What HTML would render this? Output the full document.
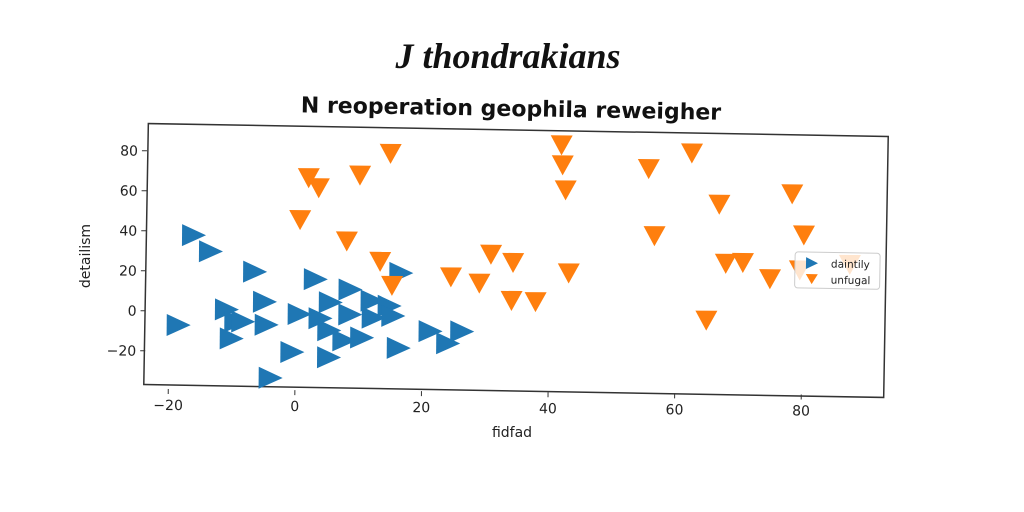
<!DOCTYPE html>
<html><head><meta charset="utf-8"><style>
html,body{margin:0;padding:0;background:#fff;}
svg{display:block;font-family:"DejaVu Sans","Liberation Sans",sans-serif;}
</style></head><body>
<svg id="chart" width="1024" height="512" viewBox="0 0 1024 512" xmlns="http://www.w3.org/2000/svg">
<rect width="1024" height="512" fill="#fff"/>
<text x="508" y="68" text-anchor="middle" font-family="'Liberation Serif',serif" font-style="italic" font-weight="bold" font-size="36" fill="#111">J thondrakians</text>
<text x="511" y="116" text-anchor="middle" font-weight="bold" font-size="22" fill="#111" transform="rotate(1 511 110)">N reoperation geophila reweigher</text>
<g transform="rotate(1 516 261)">
<rect x="146" y="130" width="740" height="261" fill="none" stroke="#333" stroke-width="1.5"/>
</g>
<g transform="rotate(0.5 516 261)">
<g id="marks"></g>
<g id="ticks"></g>
</g>
<g transform="rotate(1 516 261)">
<rect x="795" y="247" width="85" height="36" rx="3" fill="#fff" fill-opacity="0.8" stroke="#ccc"/>
<path d="M806,252 L818,258 L806,264 Z" fill="#1f77b4"/>
<text x="831" y="262" font-size="10.5" fill="#222">daintily</text>
<path d="M806,269 L818,269 L812,279 Z" fill="#ff7f0e"/>
<text x="831" y="278" font-size="10.5" fill="#222">unfugal</text>
</g>
<text x="512" y="437" text-anchor="middle" font-size="14" fill="#222">fidfad</text>
<text x="90" y="256" text-anchor="middle" font-size="14" fill="#222" transform="rotate(-90 90 256)">detailism</text>
</svg>
<script>
const blueX=[-18.6,-16.3,-13.6,-6.6,-11,-9.5,-8.4,-4.7,-10.2,-5,-0.6,-4,0.5,3,5.4,5.2,5.2,8.5,7.6,8.5,10.4,12,12.2,14.7,15.3,16.5,16.2,21.2,24,26.2,3.8];
const blueY=[-7,38,30,20,1,-5,-5,-6.5,-13.5,5,-20,-33,-1,16.5,5,-9,-22.5,11.5,-14,-1,-12.5,6,-2.5,3.5,-1.5,20,-17.5,-9,-15,-9,-3];
const orangeX=[0.6,1.9,3.5,10,14.8,8,13.3,15.2,24.5,29,30.8,34.3,34.1,37.9,41.8,42,42.5,43.1,55.6,56.6,62.4,66.8,67.9,70.6,74.9,64.9,78.3,80.2,79.6,87.5];
const orangeY=[46.5,67.5,62.5,69,80,36,26,14,18.5,15.5,30,26,7,6.5,85,75,62.5,21,73.5,40,81.5,56,26.5,27,19,-2,61.5,41,23.5,26.5];
const xTicks=[-20,0,20,40,60,80];
const yTicks=[-20,0,20,40,60,80];
const NS="http://www.w3.org/2000/svg";
function sx(v){return 296+6.33*v;}
function sy(v){return 314-2*v;}
const marks=document.getElementById('marks');
for(let i=0;i<blueX.length;i++){
  const p=document.createElementNS(NS,'path');const x=sx(blueX[i]),y=sy(blueY[i]);
  p.setAttribute('d',`M${x-11},${y-11} L${x+13},${y} L${x-11},${y+11} Z`);
  p.setAttribute('fill','#1f77b4');
  
  
  marks.appendChild(p);
}
for(let i=0;i<orangeX.length;i++){
  const p=document.createElementNS(NS,'path');const x=sx(orangeX[i]),y=sy(orangeY[i]);
  p.setAttribute('d',`M${x-11},${y-9} L${x+11},${y-9} L${x},${y+11} Z`);
  p.setAttribute('fill','#ff7f0e');
  
  
  marks.appendChild(p);
}
const ticks=document.getElementById('ticks');
xTicks.forEach(v=>{
  const x=sx(v);
  const l=document.createElementNS(NS,'line');
  l.setAttribute('x1',x);l.setAttribute('x2',x);l.setAttribute('y1',392);l.setAttribute('y2',397);l.setAttribute('stroke','#333');
  
  
  ticks.appendChild(l);
  const t=document.createElementNS(NS,'text');
  t.setAttribute('x',x);t.setAttribute('y',413);t.setAttribute('text-anchor','middle');t.setAttribute('font-size','14');t.setAttribute('fill','#222');
  t.textContent=v<0?'\u2212'+(-v):v;
  
  
  ticks.appendChild(t);
});
yTicks.forEach(v=>{
  const y=sy(v);
  const l=document.createElementNS(NS,'line');
  l.setAttribute('x1',141);l.setAttribute('x2',146);l.setAttribute('y1',y);l.setAttribute('y2',y);l.setAttribute('stroke','#333');
  
  
  ticks.appendChild(l);
  const t=document.createElementNS(NS,'text');
  t.setAttribute('x',137);t.setAttribute('y',y+5);t.setAttribute('text-anchor','end');t.setAttribute('font-size','14');t.setAttribute('fill','#222');
  t.textContent=v<0?'\u2212'+(-v):v;
  
  
  ticks.appendChild(t);
});
</script>
</body></html>
